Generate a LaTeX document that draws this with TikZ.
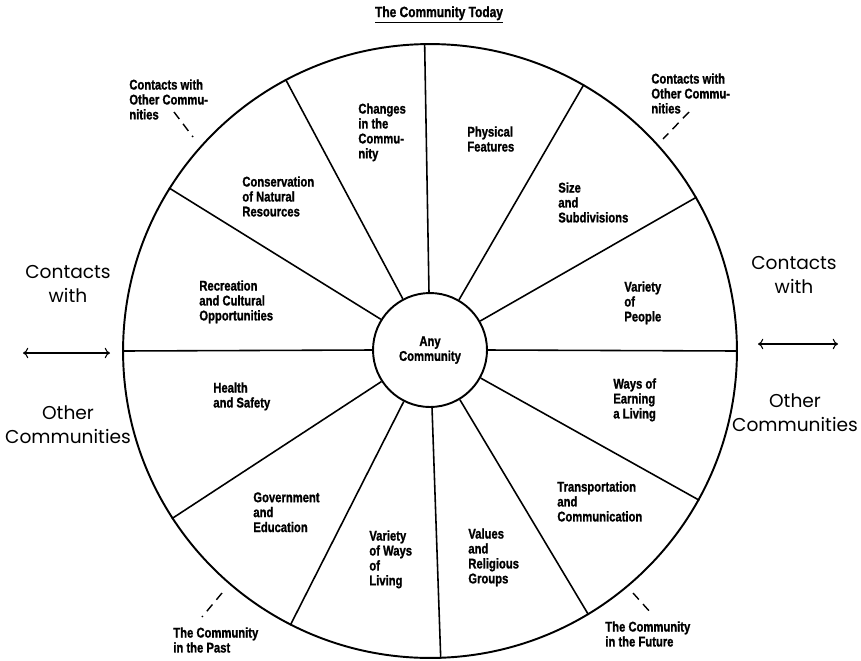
\documentclass[tikz,border=0pt]{standalone}
\usepackage{fontspec}
\setmainfont{Liberation Sans}
\newfontfamily\cond[FakeStretch=0.8, FakeBold=1.2]{Liberation Sans Bold}
\newfontfamily\geo{Poppins}
\usetikzlibrary{arrows.meta}
\tikzset{
  lab/.style={font=\cond\fontsize{8}{8.5}\selectfont, align=left, anchor=north west, inner sep=0pt},
  big/.style={font=\geo\fontsize{10.6}{13.7}\selectfont, align=center, inner sep=0pt},
  rimline/.style={line width=1.1pt},
  spoke/.style={line width=0.9pt},
  dashline/.style={line width=0.8pt, dash pattern=on 5pt off 3.5pt},
  twoway/.style={line width=0.6pt, <->, >={To[length=3pt,width=6pt]}}
}
\begin{document}
\begin{tikzpicture}[x=0.02cm, y=-0.02cm]
\useasboundingbox (0,0) rectangle (861,660);
% title
\node[font=\cond\fontsize{8.5}{9}\selectfont, inner sep=0pt] (title) at (439,15) {\underline{The Community Today}};
% circles
\node[circle, draw, rimline, minimum size=12.28cm, inner sep=0pt] (rim) at (430,351) {};
\node[circle, draw, rimline, minimum size=2.28cm, inner sep=0pt, align=center,
      font=\cond\fontsize{8}{8.5}\selectfont, fill=white] (hub) at (430,350) {Any\\Community};
\foreach \a in {91.3,60,30.2,0.75,-29.3,-59.4,-88.5,-117.4,-147.5,180.4,148.8,118.6}
  \draw[spoke] (hub.\a) -- (rim.\a);
% sector labels
\node[lab] (l1) at (358,103) {Changes\\in the\\Commu-\\nity};
\node[lab] (l2) at (467,126) {Physical\\Features};
\node[lab] (l3) at (558,182) {Size\\and\\Subdivisions};
\node[lab] (l4) at (624,281) {Variety\\of\\People};
\node[lab] (l5) at (613,378) {Ways of\\Earning\\a Living};
\node[lab] (l6) at (557,481) {Transportation\\and\\Communication};
\node[lab] (l7) at (468,528) {Values\\and\\Religious\\Groups};
\node[lab] (l8) at (369,530) {Variety\\of Ways\\of\\Living};
\node[lab] (l9) at (253,492) {Government\\and\\Education};
\node[lab] (l10) at (213,382) {Health\\and Safety};
\node[lab] (l11) at (199,280) {Recreation\\and Cultural\\Opportunities};
\node[lab] (l12) at (242,176) {Conservation\\of Natural\\Resources};
% outside small labels
\node[lab] (tl) at (129,79) {Contacts with\\Other Commu-\\nities};
\node[lab] (tr) at (651,73) {Contacts with\\Other Commu-\\nities};
\node[lab] (bl) at (173,627) {The Community\\in the Past};
\node[lab] (br) at (605,621) {The Community\\in the Future};
\coordinate (tla) at (174,112); \coordinate (tlb) at (193,137);
\coordinate (tra) at (689,112); \coordinate (trb) at (663,139);
\coordinate (bla) at (222,593); \coordinate (blb) at (202,617);
\coordinate (bra) at (633,593); \coordinate (brb) at (651,613);
\draw[dashline] (tla) -- (tlb);
\draw[dashline] (tra) -- (trb);
\draw[dashline] (bla) -- (blb);
\draw[dashline] (bra) -- (brb);
% big side labels
\node[big] (lt) at (68,284) {Contacts\\with};
\node[big] (lb) at (68,425) {Other\\Communities};
\node[big] (rt) at (794,275) {Contacts\\with};
\node[big] (rb) at (795,413) {Other\\Communities};
\coordinate (la) at (23,353); \coordinate (lz) at (110,353);
\coordinate (ra) at (758,344); \coordinate (rz) at (838,344);
\draw[twoway] (la) -- (lz);
\draw[twoway] (ra) -- (rz);
\end{tikzpicture}
\end{document}
